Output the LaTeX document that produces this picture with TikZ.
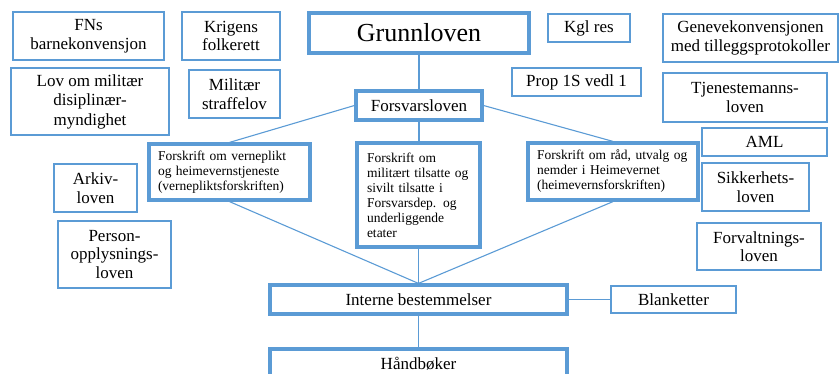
\documentclass[tikz,border=0pt]{standalone}
\usepackage{fontspec}
\setmainfont{Liberation Serif}
\definecolor{bord}{HTML}{5B9BD5}
\begin{document}
\begin{tikzpicture}[x=1pt,y=-1pt,
  base/.style={draw=bord,fill=white,inner sep=0pt,align=center,
    font=\fontsize{17}{18.5}\selectfont},
  thinbox/.style={base,line width=1.4pt},
  thickbox/.style={base,line width=3.2pt},
  smallbox/.style={thickbox,align=left,inner xsep=9pt,
    font=\fontsize{13.5}{15}\selectfont},
  conn/.style={draw=bord,line width=1.1pt}]
\useasboundingbox (0,0) rectangle (840,373);
\clip (0,0) rectangle (840,373);
% nodes
\node[thinbox,minimum width=151pt,minimum height=48pt] (fn) at (88.5,36) {FNs\\barnekonvensjon};
\node[thinbox,minimum width=98pt,minimum height=48pt] (krig) at (231,36) {Krigens\\folkerett};
\node[thickbox,minimum width=220pt,minimum height=40pt,font=\fontsize{26}{28}\selectfont] (grunn) at (419,33) {Grunnloven};
\node[thinbox,minimum width=82pt,minimum height=28pt] (kgl) at (589,28) {Kgl res};
\node[thinbox,minimum width=175pt,minimum height=48pt] (geneve) at (750.5,38) {Genevekonvensjonen\\med tilleggsprotokoller};
\node[thinbox,minimum width=158pt,minimum height=67pt,font=\fontsize{17}{19.5}\selectfont] (lov) at (90,101.5) {Lov om militær\\disiplinær-\\myndighet};
\node[thinbox,minimum width=91pt,minimum height=48pt] (milstr) at (234.5,94) {Militær\\straffelov};
\node[thinbox,minimum width=129pt,minimum height=28pt] (prop) at (576.5,82) {Prop 1S vedl 1};
\node[thinbox,minimum width=164pt,minimum height=49pt] (tjen) at (745,97.5) {Tjenestemanns-\\loven};
\node[thickbox,minimum width=126pt,minimum height=29pt] (fors) at (419,105.5) {Forsvarsloven};
\node[thinbox,minimum width=125pt,minimum height=28pt] (aml) at (764.5,142) {AML};
\node[thinbox,minimum width=107pt,minimum height=48pt] (sikk) at (755.5,187) {Sikkerhets-\\loven};
\node[thinbox,minimum width=124pt,minimum height=47pt] (forv) at (759,246.5) {Forvaltnings-\\loven};
\node[thinbox,minimum width=83pt,minimum height=48pt] (arkiv) at (95.5,188) {Arkiv-\\loven};
\node[thinbox,minimum width=113pt,minimum height=67pt] (person) at (114.5,254.5) {Person-\\opplysnings-\\loven};
\node[smallbox,text width=143pt,minimum height=56pt] (vern) at (229.5,172) {Forskrift om verneplikt\\og heimevernstjeneste\\(vernepliktsforskriften)};
\node[smallbox,inner xsep=10pt,text width=103pt,minimum height=104pt] (mil) at (418.5,195) {Forskrift om\\militært tilsatte og\\sivilt tilsatte i\\Forsvarsdep. og\\underliggende\\etater};
\node[smallbox,text width=152pt,minimum height=57pt] (rad) at (613,171.5) {Forskrift om råd, utvalg og\\nemder i Heimevernet\\(heimevernsforskriften)};
\node[thickbox,minimum width=297pt,minimum height=29pt] (interne) at (418.5,299.5) {Interne bestemmelser};
\node[thinbox,minimum width=125pt,minimum height=27pt] (blank) at (673.5,299.5) {Blanketter};
\node[thickbox,minimum width=297pt,minimum height=29pt] (hand) at (418.5,363.5) {Håndbøker};
% connectors
\draw[conn] (grunn.south) -- (grunn.south |- fors.north);
\draw[conn] (fors.west) -- (vern.north);
\draw[conn] (fors.east) -- (rad.north);
\draw[conn] (fors.south) -- (fors.south |- mil.north);
\draw[conn] (vern.south) -- (interne.north);
\draw[conn] (rad.south) -- (interne.north);
\draw[conn] (mil.south) -- (interne.north);
\draw[conn] (interne.south) -- (hand.north);
\draw[conn] (interne.east) -- (blank.west);
\end{tikzpicture}
\end{document}
